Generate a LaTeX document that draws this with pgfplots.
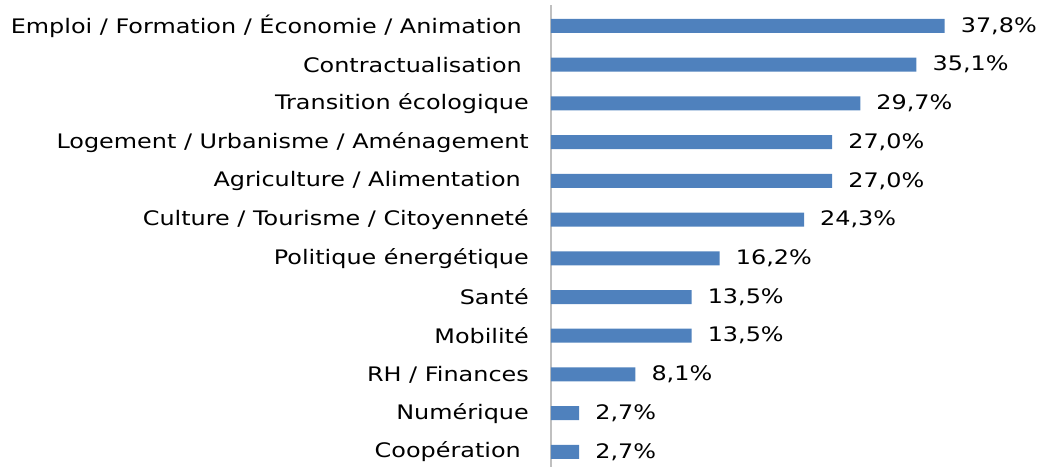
\documentclass[border=0pt]{standalone}
\usepackage{fontspec}
\setmainfont{DejaVu Sans}[FakeStretch=1.195]
\usepackage{pgfplots}
\pgfplotsset{compat=1.18}
\definecolor{barblue}{HTML}{4F81BD}
\definecolor{axisgrey}{HTML}{C0C0C0}
\begin{document}
\begin{tikzpicture}
\begin{axis}[
  scale only axis,
  width=479pt, height=462pt,
  xmin=0, xmax=46,
  ymin=-0.54, ymax=11.39,
  y dir=reverse,
  axis x line=none,
  axis y line*=left,
  y axis line style={draw=axisgrey, line width=1.6pt},
  ytick={0,...,11},
  major tick length=0pt,
  yticklabels={
    {Emploi / Formation / Économie / Animation\kern7pt},
    {Contractualisation\kern7pt},
    {Transition écologique},
    {Logement / Urbanisme / Aménagement},
    {Agriculture / Alimentation\kern8pt},
    {Culture / Tourisme / Citoyenneté},
    {Politique énergétique},
    {Santé},
    {Mobilité},
    {RH / Finances},
    {Numérique},
    {Coopération\kern8pt}},
  yticklabel style={font=\fontsize{20}{24}\selectfont, anchor=east, inner sep=0pt, xshift=-22pt},
  /pgf/number format/assume math mode=true,
  xbar, bar width=14pt,
  nodes near coords={\pgfmathprintnumber[fixed,fixed zerofill,precision=1,use comma]{\pgfplotspointmeta}\%},
  nodes near coords style={font=\fontsize{20}{24}\selectfont, anchor=west, inner sep=0pt, xshift=16pt, text=black},
  point meta=x,
  clip=false,
]
\addplot[fill=barblue, draw=none] coordinates {
(37.8,0) (35.1,1) (29.7,2) (27.0,3) (27.0,4) (24.3,5) (16.2,6) (13.5,7) (13.5,8) (8.1,9) (2.7,10) (2.7,11)};
\end{axis}
\pgfresetboundingbox
\path ([xshift=-551pt]current axis.south west) rectangle ([xshift=487pt,yshift=467pt]current axis.south west);
\end{tikzpicture}
\end{document}
